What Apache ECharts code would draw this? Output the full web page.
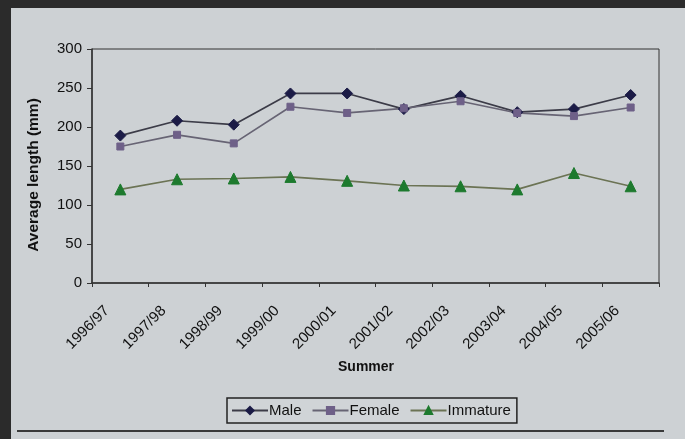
<!DOCTYPE html>
<html>
<head>
<meta charset="utf-8">
<script src="https://cdn.jsdelivr.net/npm/echarts@6/dist/echarts.min.js"></script>
<style>
  html, body { margin: 0; padding: 0; background: #2b2b2b; }
  #chart { width: 685px; height: 439px; }
</style>
</head>
<body>
<div id="chart"></div>
<script>
// Summer seasons on the category axis
const seasons = ['1996/97', '1997/98', '1998/99', '1999/00', '2000/01',
                 '2001/02', '2002/03', '2003/04', '2004/05', '2005/06'];

// Average length (mm) per season
const male     = [189, 208, 203, 243, 243, 223, 240, 219, 223, 241];
const female   = [175, 190, 179, 226, 218, 224, 233, 218, 214, 225];
const immature = [120, 133, 134, 136, 131, 125, 124, 120, 141, 124];

const chart = echarts.init(document.getElementById('chart'), null, { renderer: 'canvas' });

const font = 'Liberation Sans, Arial, sans-serif';

function lineSeries(name, data, symbol, size, markerColor, lineColor) {
  return {
    name: name,
    type: 'line',
    data: data,
    symbol: symbol,
    symbolSize: size,
    showAllSymbol: true,
    z: 3,
    itemStyle: { color: markerColor, borderColor: markerColor, borderWidth: 1 },
    lineStyle: { color: lineColor, width: 1.7 },
    emphasis: { disabled: true }
  };
}

chart.setOption({
  backgroundColor: '#2b2b2b',
  animation: false,
  textStyle: { fontFamily: font },
  graphic: [
    {
      type: 'rect', z: -10,
      shape: { x: 11, y: 8, width: 674, height: 431 },
      style: { fill: '#cdd1d4' }
    },
    {
      type: 'line', z: -5,
      shape: { x1: 17, y1: 431, x2: 664, y2: 431 },
      style: { stroke: '#3a3a3a', lineWidth: 2 }
    },
    {
      type: 'text', z: 5,
      x: 366, y: 367,
      style: {
        text: 'Summer', fill: '#111',
        font: 'bold 14px ' + font,
        textAlign: 'center', textVerticalAlign: 'middle'
      }
    },
    {
      type: 'text', z: 5,
      x: 34, y: 175, rotation: Math.PI / 2,
      style: {
        text: 'Average length (mm)', fill: '#111',
        font: 'bold 15.5px ' + font,
        textAlign: 'center', textVerticalAlign: 'middle'
      }
    }
  ],
  grid: {
    left: 92, right: 26, top: 49, bottom: 156,
    show: true, borderColor: '#333', borderWidth: 1, backgroundColor: 'transparent'
  },
  legend: {
    left: 227, top: 398, width: 292, height: 28,
    padding: [5, 6, 5, 4],
    itemGap: 10,
    itemWidth: 36, itemHeight: 9,
    borderColor: '#222', borderWidth: 1.5,
    backgroundColor: '#d0d4d7',
    textStyle: { fontSize: 15, color: '#111', fontFamily: font, padding: [0, 0, 0, -4] },
    data: ['Male', 'Female', 'Immature']
  },
  xAxis: {
    type: 'category',
    data: seasons,
    boundaryGap: true,
    axisLine: { lineStyle: { color: '#333', width: 1.5 } },
    axisTick: { show: true, length: 4, lineStyle: { color: '#333' } },
    axisLabel: {
      rotate: 45, fontSize: 15, color: '#111', margin: 12,
      padding: [0, 19, 0, 0], fontFamily: font
    },
    splitLine: { show: false }
  },
  yAxis: {
    type: 'value',
    min: 0, max: 300, interval: 50,
    axisLine: { show: true, lineStyle: { color: '#333', width: 1.5 } },
    axisTick: { show: true, length: 5, lineStyle: { color: '#333' } },
    axisLabel: { fontSize: 15, color: '#111', margin: 10, fontFamily: font },
    splitLine: { show: false }
  },
  series: [
    lineSeries('Male', male, 'diamond', 11, '#1b1b46', '#3c3c48'),
    lineSeries('Female', female, 'rect', 7, '#6e6088', '#676474'),
    lineSeries('Immature', immature, 'triangle', 11, '#1d7a2e', '#6b7354')
  ]
});
</script>
</body>
</html>
